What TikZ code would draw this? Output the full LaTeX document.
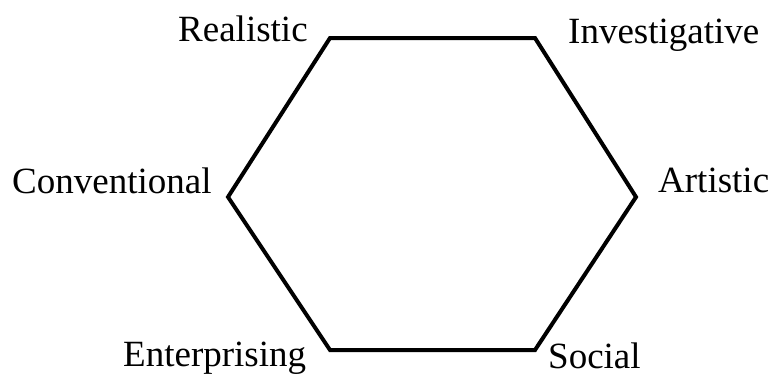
\documentclass[tikz,border=0pt]{standalone}
\usepackage{fontspec}
\setmainfont{Liberation Serif}
\begin{document}
\begin{tikzpicture}[x=1pt,y=-1pt,
  lbl/.style={anchor=base west,inner sep=0pt,font=\fontsize{37}{40}\selectfont},
  hexline/.style={line width=4pt,line join=miter}]
\useasboundingbox (0,0) rectangle (770,378);
\coordinate (tl) at (330,38);
\coordinate (tr) at (535,38);
\coordinate (r) at (636,197);
\coordinate (br) at (535,350);
\coordinate (bl) at (330,350);
\coordinate (l) at (228,197);
\draw[hexline] (tl) -- (tr) -- (r) -- (br) -- (bl) -- (l) -- cycle;
\node[lbl] (real) at (178,41) {Realistic};
\node[lbl] (inv) at (568,43) {Investigative};
\node[lbl] (conv) at (12,193) {Conventional};
\node[lbl] (art) at (658,192) {Artistic};
\node[lbl] (ent) at (123,366) {Enterprising};
\node[lbl] (soc) at (548,368) {Social};
\end{tikzpicture}
\end{document}
